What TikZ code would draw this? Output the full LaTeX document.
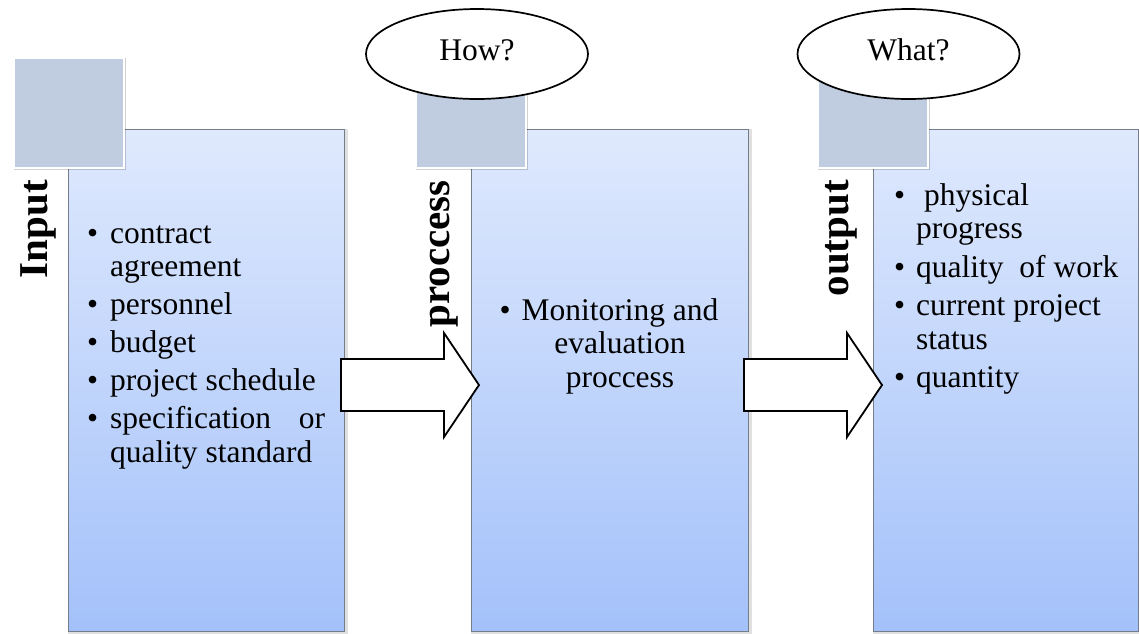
\documentclass[tikz,border=0pt]{standalone}
\usepackage{fontspec}
\setmainfont{Liberation Serif}
\usetikzlibrary{shapes.geometric,calc}

\definecolor{boxtop}{HTML}{DFE9FD}
\definecolor{boxbot}{HTML}{A3C1FA}
\definecolor{tabfill}{HTML}{C0CCE0}
\definecolor{boxedge}{HTML}{757D8A}

\newcommand\itemfont{\fontsize{31.5}{33.5}\selectfont}
\newcommand\labelfont{\fontsize{41}{41}\selectfont\bfseries}
% one bulleted entry with a hanging indent
\newcommand\bulletrow[2]{\par\noindent\hangindent=#1\hangafter=1\makebox[#1][l]{\textbullet}#2}

\tikzset{
  x=1pt, y=-1pt,
  column/.style={draw=boxedge, line width=1.2pt, top color=boxtop, bottom color=boxbot,
    inner sep=0pt, anchor=north west, minimum height=502pt},
  colshade/.style={draw=black, draw opacity=0.12, line width=4pt, fill=none,
    inner sep=0pt, anchor=north west, minimum height=502pt},
  tab/.style={draw=white, line width=1.8pt, fill=tabfill, inner sep=0pt,
    minimum size=110pt, anchor=north west},
  tabshade/.style={fill=black, opacity=0.18, inner sep=0pt,
    minimum size=112pt, anchor=north west},
  sidelabel/.style={font=\labelfont, inner sep=0pt, anchor=base east, rotate=90},
  list/.style={inner sep=0pt, anchor=base west},
  blockarrow/.style={draw=black, line width=1.8pt, fill=white, line join=miter},
  bubble/.style={ellipse, draw=black, line width=1.7pt, fill=white, inner sep=0pt,
    minimum width=222pt, minimum height=90pt, font=\itemfont},
}

\begin{document}
\begin{tikzpicture}
\useasboundingbox (0,0) rectangle (1139,633);

% soft edges behind the three columns
\node[colshade, minimum width=276pt] at (68,129) {};
\node[colshade, minimum width=277pt] at (471,129) {};
\node[colshade, minimum width=265pt] at (873,129) {};

% the three columns
\node[column, minimum width=276pt] (in)  at (68,129) {};
\node[column, minimum width=277pt] (pr)  at (471,129) {};
\node[column, minimum width=265pt] (out) at (873,129) {};

% header tabs
\node[tabshade] at (14,58) {};
\node[tab] (intab) at (13,57) {};
\node[tabshade] at (416,58) {};
\node[tab] (prtab) at (415,57) {};
\node[tabshade] at (818,58) {};
\node[tab] (outtab) at (817,57) {};

% vertical titles
\node[sidelabel] (inlab)  at (47,180)  {Input};
\node[sidelabel] (prlab)  at (449,180) {proccess};
\node[sidelabel] (outlab) at (848,180) {output};

% column contents
\node[list] (inlist) at (87,243) {\parbox[t]{262pt}{\itemfont\setlength\parskip{4.5pt}%
  \bulletrow{23pt}{contract\newline agreement}%
  \bulletrow{23pt}{personnel}%
  \bulletrow{23pt}{budget}%
  \bulletrow{23pt}{project schedule}%
  \bulletrow{23pt}{\hbox to 215pt{specification\hfill or}\newline quality standard}\par}};

\node[list, anchor=base] (prlist) at (620,320) {\parbox[t]{220pt}{\itemfont\centering
  \leavevmode\llap{\makebox[22pt][l]{\textbullet}}Monitoring and\\evaluation\\proccess\par}};

\node[list] (outlist) at (894,205) {\parbox[t]{240pt}{\itemfont\setlength\parskip{5pt}%
  \bulletrow{22pt}{\hspace{8pt}physical\newline progress}%
  \bulletrow{22pt}{quality\ \ of work}%
  \bulletrow{22pt}{current project\newline status}%
  \bulletrow{22pt}{quantity}\par}};

% block arrows between the columns
\coordinate (a1tail) at (341,385);
\coordinate (a1tip)  at (479,385);
\coordinate (a2tail) at (744,385);
\coordinate (a2tip)  at (882,385);
\draw[blockarrow] ($(a1tail)+(0,-26)$) -- ++(103,0) -- ++(0,-26) -- (a1tip)
  -- ++(-35,52) -- ++(0,-26) -- ++(-103,0) -- cycle;
\draw[blockarrow] ($(a2tail)+(0,-26)$) -- ++(103,0) -- ++(0,-26) -- (a2tip)
  -- ++(-35,52) -- ++(0,-26) -- ++(-103,0) -- cycle;

% question bubbles
\node[bubble] (how)  at (477,54)   {\raisebox{4.5pt}[21pt][0pt]{How?}\hspace{53pt}};
\node[bubble] (what) at (908.5,54) {\raisebox{4.5pt}[21pt][0pt]{What?}\hspace{42pt}};
\end{tikzpicture}
\end{document}
